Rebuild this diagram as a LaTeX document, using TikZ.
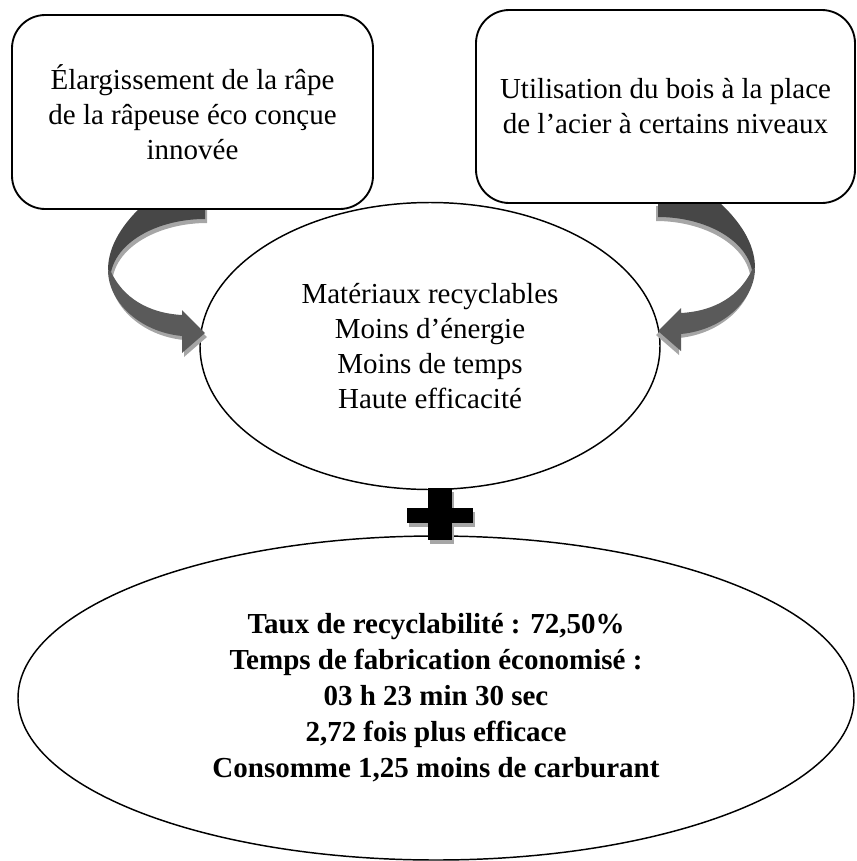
\documentclass[tikz,border=0pt]{standalone}
\usepackage{fontspec}
\setmainfont{Liberation Serif}
\usetikzlibrary{shapes.geometric}
\definecolor{arrowdark}{HTML}{474747}
\definecolor{arrowmid}{HTML}{5A5A5A}
\definecolor{arrowshadow}{HTML}{A6A6A6}
\newcommand{\myArrowShape}{%
  \fill[arrowshadow, shift={(2,4)}] (144,204) .. controls (118,228) and (108,250) .. (108,270)
     .. controls (108,302) and (140,332) .. (182,336) -- (182,353) -- (205,333) -- (182,310) -- (182,315)
     .. controls (147,313) and (123,297) .. (111,272)
     .. controls (118,240) and (160,219) .. (205,219) -- (205,204) -- cycle;
  \fill[arrowdark] (144,204) .. controls (118,228) and (108,250) .. (108,270) -- (111,272)
     .. controls (118,240) and (160,219) .. (205,219) -- (205,204) -- cycle;
  \fill[arrowmid] (108,270) .. controls (108,302) and (140,332) .. (182,336) -- (182,353) -- (205,333)
     -- (182,310) -- (182,315) .. controls (147,313) and (123,297) .. (111,272) -- cycle;
}
\begin{document}
\begin{tikzpicture}[x=0.75pt,y=-0.75pt,
  box/.style={draw, line width=1.4pt, rounded corners=25pt, fill=white, align=center, inner sep=0pt,
              font=\fontsize{21.75}{26.25}\selectfont},
  oval/.style={draw, ellipse, line width=1.1pt, fill=white, align=center, inner sep=0pt},
  plusshade/.style={fill=arrowshadow},
  plusbar/.style={fill=black}]
\useasboundingbox (0,0) rectangle (857,861);

% middle ellipse
\node[oval, minimum width=345pt, minimum height=215.25pt,
      font=\fontsize{21.75}{26.25}\selectfont] (mid) at (430,346)
  {Matériaux recyclables\\Moins d’énergie\\Moins de temps\\Haute efficacité};

% curved arrows
\begin{scope}
  \myArrowShape
\end{scope}
\begin{scope}[shift={(863,-2)}, xscale=-1]
  \myArrowShape
\end{scope}

% top boxes
\node[box, minimum width=270.75pt, minimum height=145.5pt] (left) at (192.5,112)
  {Élargissement de la râpe\\de la râpeuse éco conçue\\innovée};
\node[box, minimum width=284.25pt, minimum height=144.75pt] (right) at (665.5,106.5)
  {Utilisation du bois à la place\\de l’acier à certains niveaux};

% bottom ellipse
\node[oval, minimum width=627pt, minimum height=243pt,
      font=\fontsize{21.75}{27}\selectfont\bfseries] (bottom) at (436,698)
  {Taux de recyclabilité : 72,50\%\\Temps de fabrication économisé :\\03 h 23 min 30 sec\\2,72 fois plus efficace\\Consomme 1,25 moins de carburant};

% plus sign
\fill[plusshade] (430,492) rectangle (454,544);
\fill[plusshade] (409,512) rectangle (475,527);
\fill[plusbar] (428,488) rectangle (452,540);
\fill[plusbar] (407,508) rectangle (473,523);
\end{tikzpicture}
\end{document}
